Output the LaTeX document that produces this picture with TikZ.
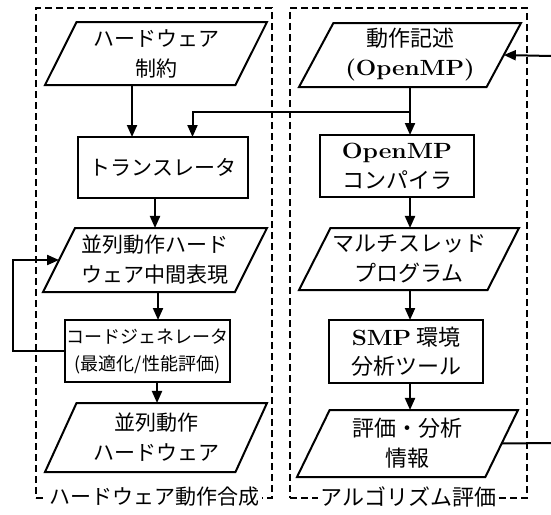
\documentclass[tikz,border=0pt]{standalone}
\usepackage{fontspec}
\newfontfamily\jp{Noto Sans CJK JP}
\newcommand\ltn[1]{{\rmfamily\bfseries #1}}
\usetikzlibrary{shapes.geometric,arrows.meta}
\tikzset{
  base/.style={draw, line width=2pt, inner sep=0pt, outer sep=0pt, align=center,
    font=\jp\fontsize{21}{30}\selectfont},
  para/.style={base, trapezium, trapezium left angle=57, trapezium right angle=123,
    trapezium stretches body},
  stepbox/.style={base, rectangle},
  arr/.style={-{Triangle[width=10pt,length=12pt]}, line width=2pt},
  conn/.style={line width=2pt},
  group/.style={draw, dash pattern=on 7pt off 4pt, line width=1.8pt, rectangle, inner sep=0pt},
  grouplabel/.style={fill=white, inner sep=3pt, font=\jp\fontsize{21}{24}\selectfont}
}
\begin{document}
\begin{tikzpicture}[x=1pt,y=-1pt]
\useasboundingbox (0,0) rectangle (551,514);
% groups
\node[group, minimum width=236pt, minimum height=490pt] (g1) at (154,253) {};
\node[group, minimum width=237pt, minimum height=490pt] (g2) at (408.5,253) {};
\node[grouplabel] (l1) at ([yshift=2pt]g1.south) {ハードウェア動作合成};
\node[grouplabel, font=\jp\fontsize{22}{24}\selectfont] (l2) at ([yshift=2pt]g2.south) {アルゴリズム評価};
% left column
\node[para, minimum width=222pt, minimum height=63pt] (hwc) at (156,53.5) {ハードウェア\\制約};
\node[stepbox, minimum width=170pt, minimum height=61pt] (tr) at (163,167.5) {トランスレータ};
\node[para, minimum width=224pt, minimum height=64pt] (mid) at (155,260) {並列動作ハード\\ウェア中間表現};
\node[stepbox, minimum width=165pt, minimum height=62pt, font=\jp\fontsize{18}{27}\selectfont] (cg) at (147.5,351) {コードジェネレータ\\(最適化/性能評価)};
\node[para, minimum width=222pt, minimum height=69pt] (hw) at (156,437.5) {並列動作\\ハードウェア};
% right column
\node[para, minimum width=222pt, minimum height=64pt, font=\jp\fontsize{22}{29}\selectfont] (desc) at (410,55) {動作記述\\\ltn{\scalebox{1.1}[1]{(OpenMP)}}};
\node[stepbox, minimum width=154pt, minimum height=62pt, font=\jp\fontsize{22}{30}\selectfont] (omp) at (397,166) {\ltn{\scalebox{1.12}[1]{OpenMP}}\\コンパイラ};
\node[para, minimum width=220pt, minimum height=62pt, font=\jp\fontsize{22}{30}\selectfont] (mt) at (409,259) {マルチスレッド\\プログラム};
\node[stepbox, minimum width=154pt, minimum height=63pt, font=\jp\fontsize{22}{29}\selectfont] (smp) at (406,351.5) {\ltn{\scalebox{1.1}[1]{SMP}} 環境\\分析ツール};
\node[para, minimum width=221pt, minimum height=67pt, font=\jp\fontsize{22}{30}\selectfont] (info) at (407.5,443.5) {評価・分析\\情報};
% connectors left
\draw[arr] ([xshift=-24pt]hwc.south) -- ([xshift=-24pt]hwc.south |- tr.north);
\draw[arr] (tr.south -| mid.north) -- (mid.north);
\draw[arr] ([xshift=3pt]mid.south) -- ([xshift=3pt]mid.south |- cg.north);
\draw[arr] ([xshift=1pt]hw.north |- cg.south) -- ([xshift=1pt]hw.north);
\draw[arr] (cg.west) -- ++(-52,0) |- (mid.west);
% connectors right
\coordinate (j) at (410,112);
\draw[arr] (desc.south) -- (desc.south |- omp.north);
\draw[arr] (j) -| ([xshift=29.5pt]tr.north);
\draw[arr] (omp.south -| desc.south) -- (mt.north -| desc.south);
\draw[arr] ([xshift=1pt]mt.south) -- ([xshift=1pt]mt.south |- smp.north);
\draw[arr] ([xshift=1pt]mt.south |- smp.south) -- ([xshift=1pt]mt.south |- info.north);
\coordinate (inR) at (551,56);
\coordinate (outR) at (551,443);
\draw[arr] (inR) -- (desc.east);
\draw[conn] (info.east) -- (outR);
\end{tikzpicture}
\end{document}
